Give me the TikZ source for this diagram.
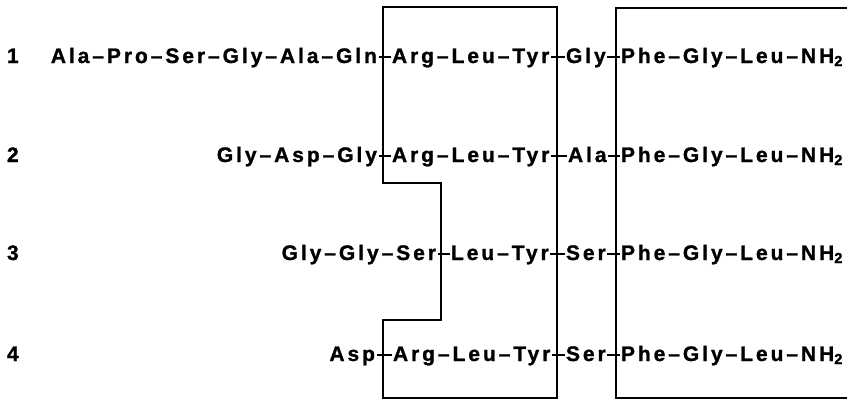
\documentclass[tikz,border=0pt]{standalone}
\usepackage{fontspec}
\newfontfamily\pepfont{Liberation Sans Bold}[LetterSpace=14, FakeBold=1.2]
\tikzset{
  pep/.style={font=\pepfont\fontsize{21}{25}\selectfont, inner sep=0pt, outer sep=0pt},
  boxline/.style={line width=1.5pt, line join=miter},
  cut/.style={line width=2pt}
}
\begin{document}
\begin{tikzpicture}[x=1pt,y=1pt]
\useasboundingbox (0,0) rectangle (847,400);
% row labels
\node[pep, anchor=base west] (n1) at (7,337) {1};
\node[pep, anchor=base west] (n2) at (7,238) {2};
\node[pep, anchor=base west] (n3) at (7,140) {3};
\node[pep, anchor=base west] (n4) at (7,39) {4};
% row 1
\node[pep, anchor=base east] (r1a) at (377,337) {Ala–Pro–Ser–Gly–Ala–Gln};
\node[pep, anchor=base west] (r1b) at (392,337) {Arg–Leu–Tyr};
\node[pep, anchor=base west] (r1c) at (566,337) {Gly};
\node[pep, anchor=base west] (r1d) at (621,337) {Phe–Gly–Leu–NH\textsubscript{2}};
% row 2
\node[pep, anchor=base east] (r2a) at (377,238) {Gly–Asp–Gly};
\node[pep, anchor=base west] (r2b) at (392,238) {Arg–Leu–Tyr};
\node[pep, anchor=base west] (r2c) at (568,238) {Ala};
\node[pep, anchor=base west] (r2d) at (621,238) {Phe–Gly–Leu–NH\textsubscript{2}};
% row 3
\node[pep, anchor=base east] (r3a) at (436,140) {Gly–Gly–Ser};
\node[pep, anchor=base west] (r3b) at (451,140) {Leu–Tyr};
\node[pep, anchor=base west] (r3c) at (566,140) {Ser};
\node[pep, anchor=base west] (r3d) at (621,140) {Phe–Gly–Leu–NH\textsubscript{2}};
% row 4
\node[pep, anchor=base east] (r4a) at (375,39) {Asp};
\node[pep, anchor=base west] (r4b) at (393,39) {Arg–Leu–Tyr};
\node[pep, anchor=base west] (r4c) at (566,39) {Ser};
\node[pep, anchor=base west] (r4d) at (621,39) {Phe–Gly–Leu–NH\textsubscript{2}};
% cleavage bonds
\foreach \a/\b in {r1a/r1b, r1b/r1c, r1c/r1d, r2a/r2b, r2b/r2c, r2c/r2d, r3a/r3b, r3b/r3c, r3c/r3d, r4a/r4b, r4b/r4c, r4c/r4d}
  \draw[cut] ([shift={(1.5pt,6pt)}]\a.base east) -- ([shift={(-1.5pt,6pt)}]\b.base west);
% boxes
\draw[boxline] (383,393) -- (557,393) -- (557,2) -- (383,2) -- (383,80) -- (441,80) -- (441,217) -- (383,217) -- cycle;
\draw[boxline] (847,392) -- (616,392) -- (616,2) -- (847,2);
\end{tikzpicture}
\end{document}
